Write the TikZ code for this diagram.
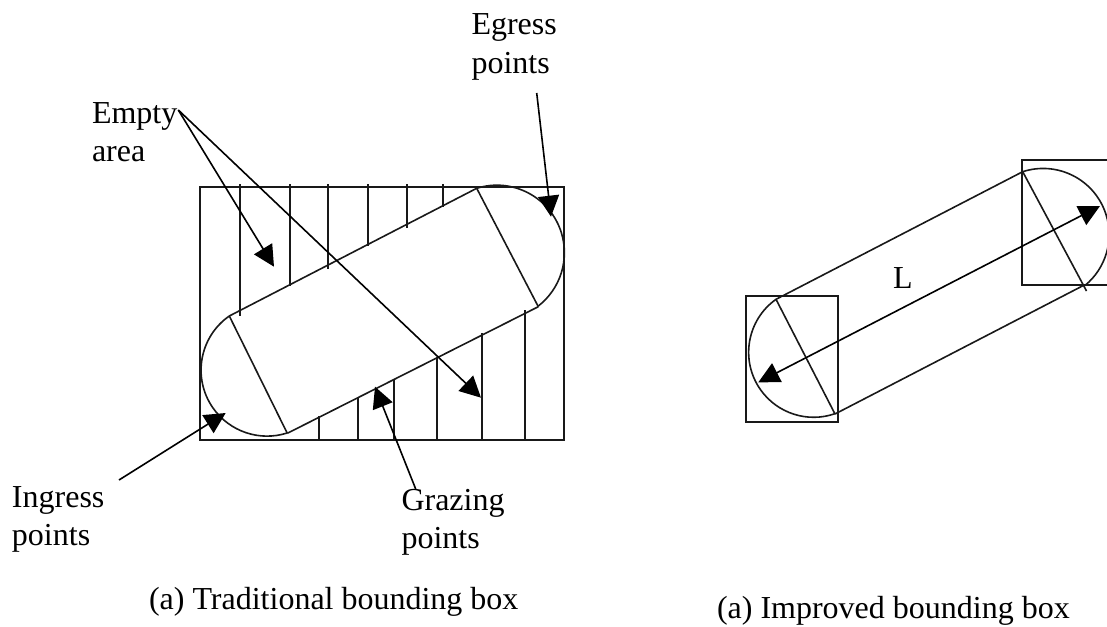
\documentclass[tikz,border=0pt]{standalone}
\usepackage{fontspec}
\setmainfont{Liberation Serif}
\usetikzlibrary{arrows.meta}
\tikzset{
  ln/.style={line width=1.6pt,black!90},
  boxln/.style={line width=1.9pt,black!90},
  arr/.style={line width=1.6pt,black,-{Triangle[length=21pt,width=21pt]}},
  darr/.style={line width=1.6pt,black,{Triangle[length=21pt,width=21pt]}-{Triangle[length=21pt,width=21pt]}},
  lab/.style={anchor=base west,inner sep=0pt,outer sep=0pt,font=\fontsize{32}{32}\selectfont}
}
\begin{document}
\begin{tikzpicture}[x=1pt,y=-1pt]
\useasboundingbox (0,0) rectangle (1107,626);
\clip (0,0) rectangle (1107,626);
% labels
\node[lab] (egress) at (471.5,35) {Egress};
\node[lab] (egresspts) at (471.5,74) {points};
\node[lab] (empty) at (92,123) {Empty};
\node[lab] (area) at (92,161) {area};
\node[lab] (ingress) at (12,507) {Ingress};
\node[lab] (ingresspts) at (12,545) {points};
\node[lab] (grazing) at (401.5,510.5) {Grazing};
\node[lab] (grazingpts) at (401.5,548) {points};
\node[lab] (capa) at (149,609) {(a) Traditional bounding box};
\node[lab] (capb) at (717,618) {(a) Improved bounding box};
\node[lab] (L) at (893,288.5) {L};
% left figure
\node[boxln,draw,inner sep=0pt,minimum width=364.5pt,minimum height=253pt,anchor=north west] (tbox) at (198.7,186) {};
\foreach \x/\y in {239.7/315.7,290/286,327.7/269.3,367.7/246,407/228.3,443/207.3}
  \draw[ln] (\x,184) -- (\x,\y);
\foreach \x/\y in {318.7/416,357.7/396.7,393.7/379.3,436.7/356.7,482/333.3,525/310}
  \draw[ln] (\x,\y) -- (\x,439);
\coordinate (a1) at (229.3,316);
\coordinate (a2) at (287.3,433.3);
\coordinate (b1) at (476.7,188.3);
\coordinate (b2) at (538.3,306.7);
\draw[ln] (a1) arc[start angle=124.9,end angle=287.8,radius=66pt];
\draw[ln] (b1) arc[start angle=107.4,end angle=-52.4,radius=67.5pt];
\draw[ln] (a1) -- (b1);
\draw[ln] (a2) -- (b2);
\draw[ln] (a1) -- (a2);
\draw[ln] (b1) -- (b2);
% left arrows
\coordinate (eo) at (178.3,110);
\coordinate (t1) at (274,266.7);
\coordinate (t2) at (481,397.7);
\coordinate (go) at (536.7,93);
\coordinate (gt) at (551,216.7);
\coordinate (io) at (119,480);
\coordinate (it) at (225.7,413);
\coordinate (zo) at (415.7,489);
\coordinate (zt) at (375,386.7);
\draw[arr] (eo) -- (t1);
\draw[arr] (eo) -- (t2);
\draw[arr] (go) -- (gt);
\draw[arr] (io) -- (it);
\draw[arr] (zo) -- (zt);
% right figure
\node[boxln,draw,inner sep=0pt,minimum width=91.7pt,minimum height=126pt,anchor=north west] (lbox) at (745.3,295) {};
\coordinate (rtl) at (1021.7,160);
\coordinate (rbl) at (1021.7,285);
\coordinate (rtr) at (1107,160);
\coordinate (rbr) at (1107,285);
\draw[boxln] (rtr) -- (rtl) -- (rbl) -- (rbr);
\coordinate (c1) at (776,299.3);
\coordinate (c2) at (835,414);
\coordinate (d1) at (1022.7,171.7);
\coordinate (d2) at (1084.3,285);
\coordinate (d3) at (1086.5,291);
\draw[ln] (c1) arc[start angle=125.4,end angle=289.2,radius=65pt];
\draw[ln] (d1) arc[start angle=108,end angle=-50.6,radius=66pt];
\draw[ln] (c1) -- (c2);
\draw[ln] (d1) -- (d3);
\draw[ln] (c1) -- (d1);
\draw[ln] (c2) -- (d2);
\coordinate (la) at (758.3,382.3);
\coordinate (lb) at (1100,206);
\draw[darr] (la) -- (lb);
\end{tikzpicture}
\end{document}
